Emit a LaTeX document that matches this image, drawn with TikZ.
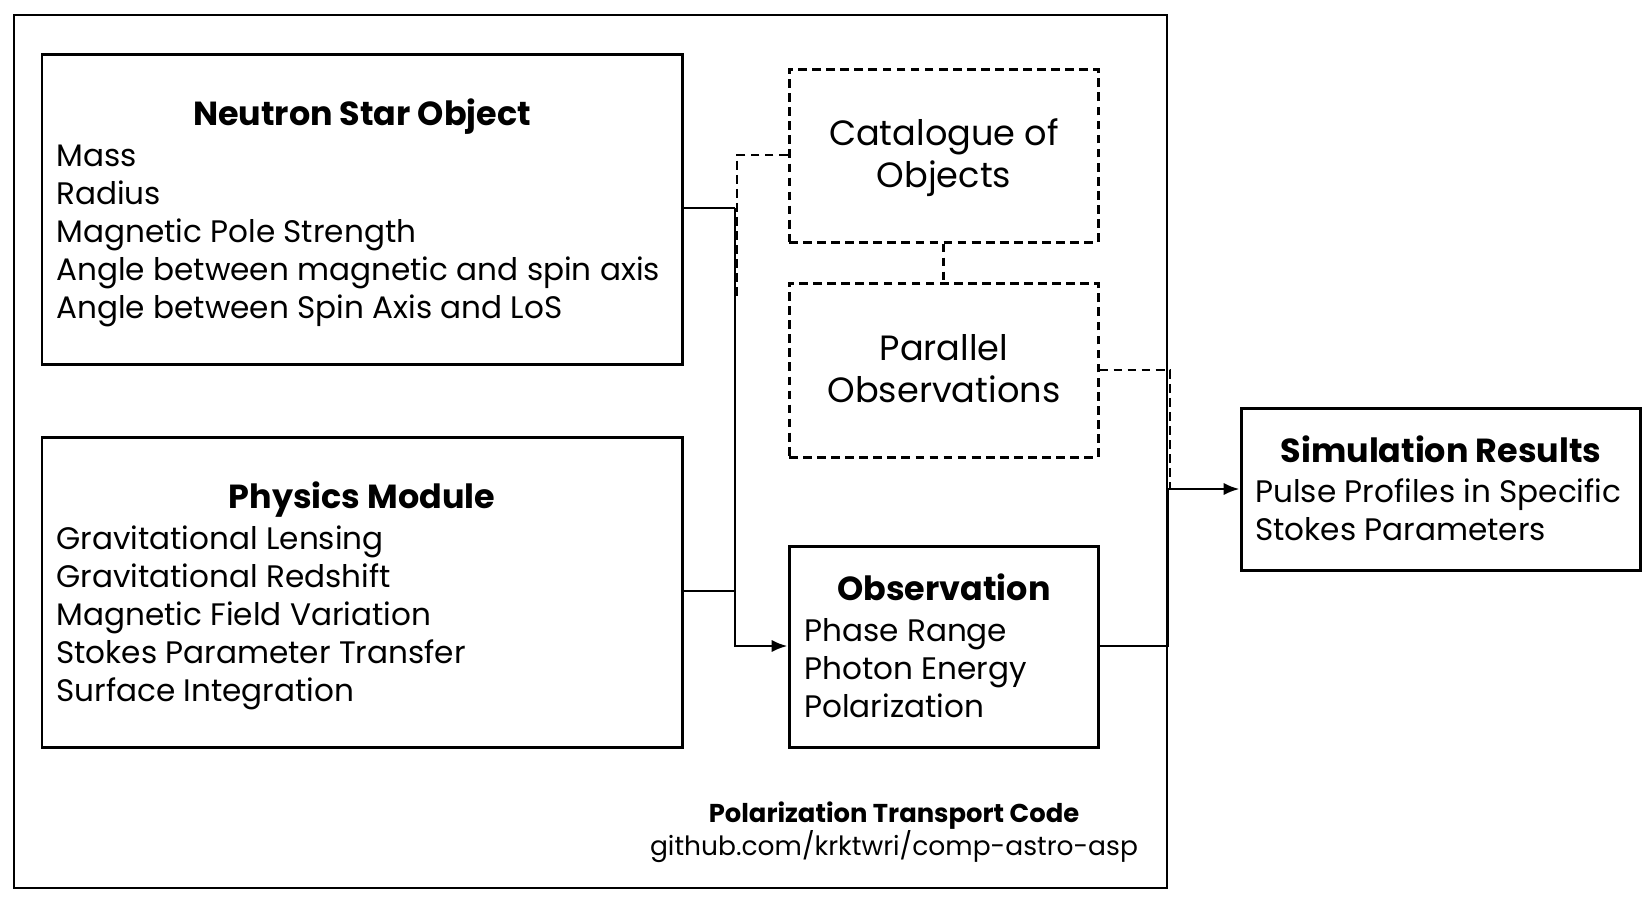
\documentclass[tikz,border=0pt]{standalone}
\usepackage{fontspec}
\setmainfont{Poppins}
\usetikzlibrary{arrows.meta,fit}

\begin{document}
\begin{tikzpicture}[x=0.02cm,y=-0.02cm,
    box/.style={draw,line width=1.7pt,inner sep=0pt},
    dbox/.style={box,dash pattern=on 5pt off 3pt},
    link/.style={line width=1.5pt},
    dlink/.style={line width=1.5pt,dash pattern=on 5pt off 3pt},
    head/.style={inner sep=0pt,anchor=base,font=\fontsize{19}{22}\selectfont\bfseries},
    item/.style={inner sep=0pt,anchor=base west,font=\fontsize{17.7}{20}\selectfont},
    citem/.style={inner sep=0pt,anchor=base,font=\fontsize{20}{22}\selectfont}]
    \useasboundingbox (0,0) rectangle (1646,897);
    % outer frame
    \node[draw,line width=1.4pt,inner sep=0pt,fit={(14,15) (1167,888)}] (frame) {};
    % left boxes
    \node[box,fit={(42,54) (682,364)}] (nso) {};
    \node[box,fit={(42,437) (682,747)}] (phys) {};
    % middle boxes
    \node[dbox,fit={(789,69) (1098,242)}] (cat) {};
    \node[dbox,fit={(789,283) (1098,457)}] (par) {};
    \node[box,fit={(789,546) (1098,747)}] (obs) {};
    % result box
    \node[box,fit={(1241,408) (1640,570)}] (sim) {};

    % texts
    \node[head] (nsohead) at (362,125) {Neutron Star Object};
    \foreach \t [count=\i] in {Mass,Radius,Magnetic Pole Strength,
        Angle between magnetic and spin axis,Angle between Spin Axis and LoS}
      \node[item] (nso\i) at (56,166+38*\i-38) {\t};
    \node[head] (physhead) at (362,508) {Physics Module};
    \foreach \t [count=\i] in {Gravitational Lensing,Gravitational Redshift,
        Magnetic Field Variation,Stokes Parameter Transfer,Surface Integration}
      \node[item] (phys\i) at (56,549+38*\i-38) {\t};
    \node[citem] (cat1) at (944,145) {Catalogue of};
    \node[citem] (cat2) at (944,187) {Objects};
    \node[citem] (par1) at (944,360) {Parallel};
    \node[citem] (par2) at (944,402) {Observations};
    \node[head] (obshead) at (944,600) {Observation};
    \foreach \t [count=\i] in {Phase Range,Photon Energy,Polarization}
      \node[item] (obs\i) at (804,641+38*\i-38) {\t};
    \node[head] (simhead) at (1441,462) {Simulation Results};
    \node[item] (sim1) at (1255,502) {Pulse Profiles in Specific};
    \node[item] (sim2) at (1255,540) {Stokes Parameters};
    \node[inner sep=0pt,anchor=base,font=\fontsize{14.7}{16}\selectfont\bfseries] (code) at (894,822) {Polarization Transport Code};
    \node[inner sep=0pt,anchor=base,font=\fontsize{15.1}{16}\selectfont] (url) at (894,855) {github.com/krktwri/comp-astro-asp};

    % connectors
    \coordinate (jl) at (735,208);% left junction
    \coordinate (jr) at (1168,489);% right junction
    \coordinate (jd) at (1170,489);% end of dashed line
    \draw[link] (nso.east |- jl) -- (jl);
    \draw[link] (phys.east |- 0,591) -- (735,591);
    \draw[link,-{Latex[length=9pt,width=7pt]}] (jl) |- (obs.west |- 0,646);
    \draw[dlink] (cat.west |- 0,155) -| (737,297);
    \draw[dlink] (cat.south) -- (par.north);
    \draw[dlink] (par.east |- 0,370) -| (jd);
    \draw[link] (obs.east |- 0,646) -| (jr);
    \draw[link,-{Latex[length=9pt,width=7pt]}] (jr) -- (sim.west |- jr);
  \end{tikzpicture}
\end{document}
